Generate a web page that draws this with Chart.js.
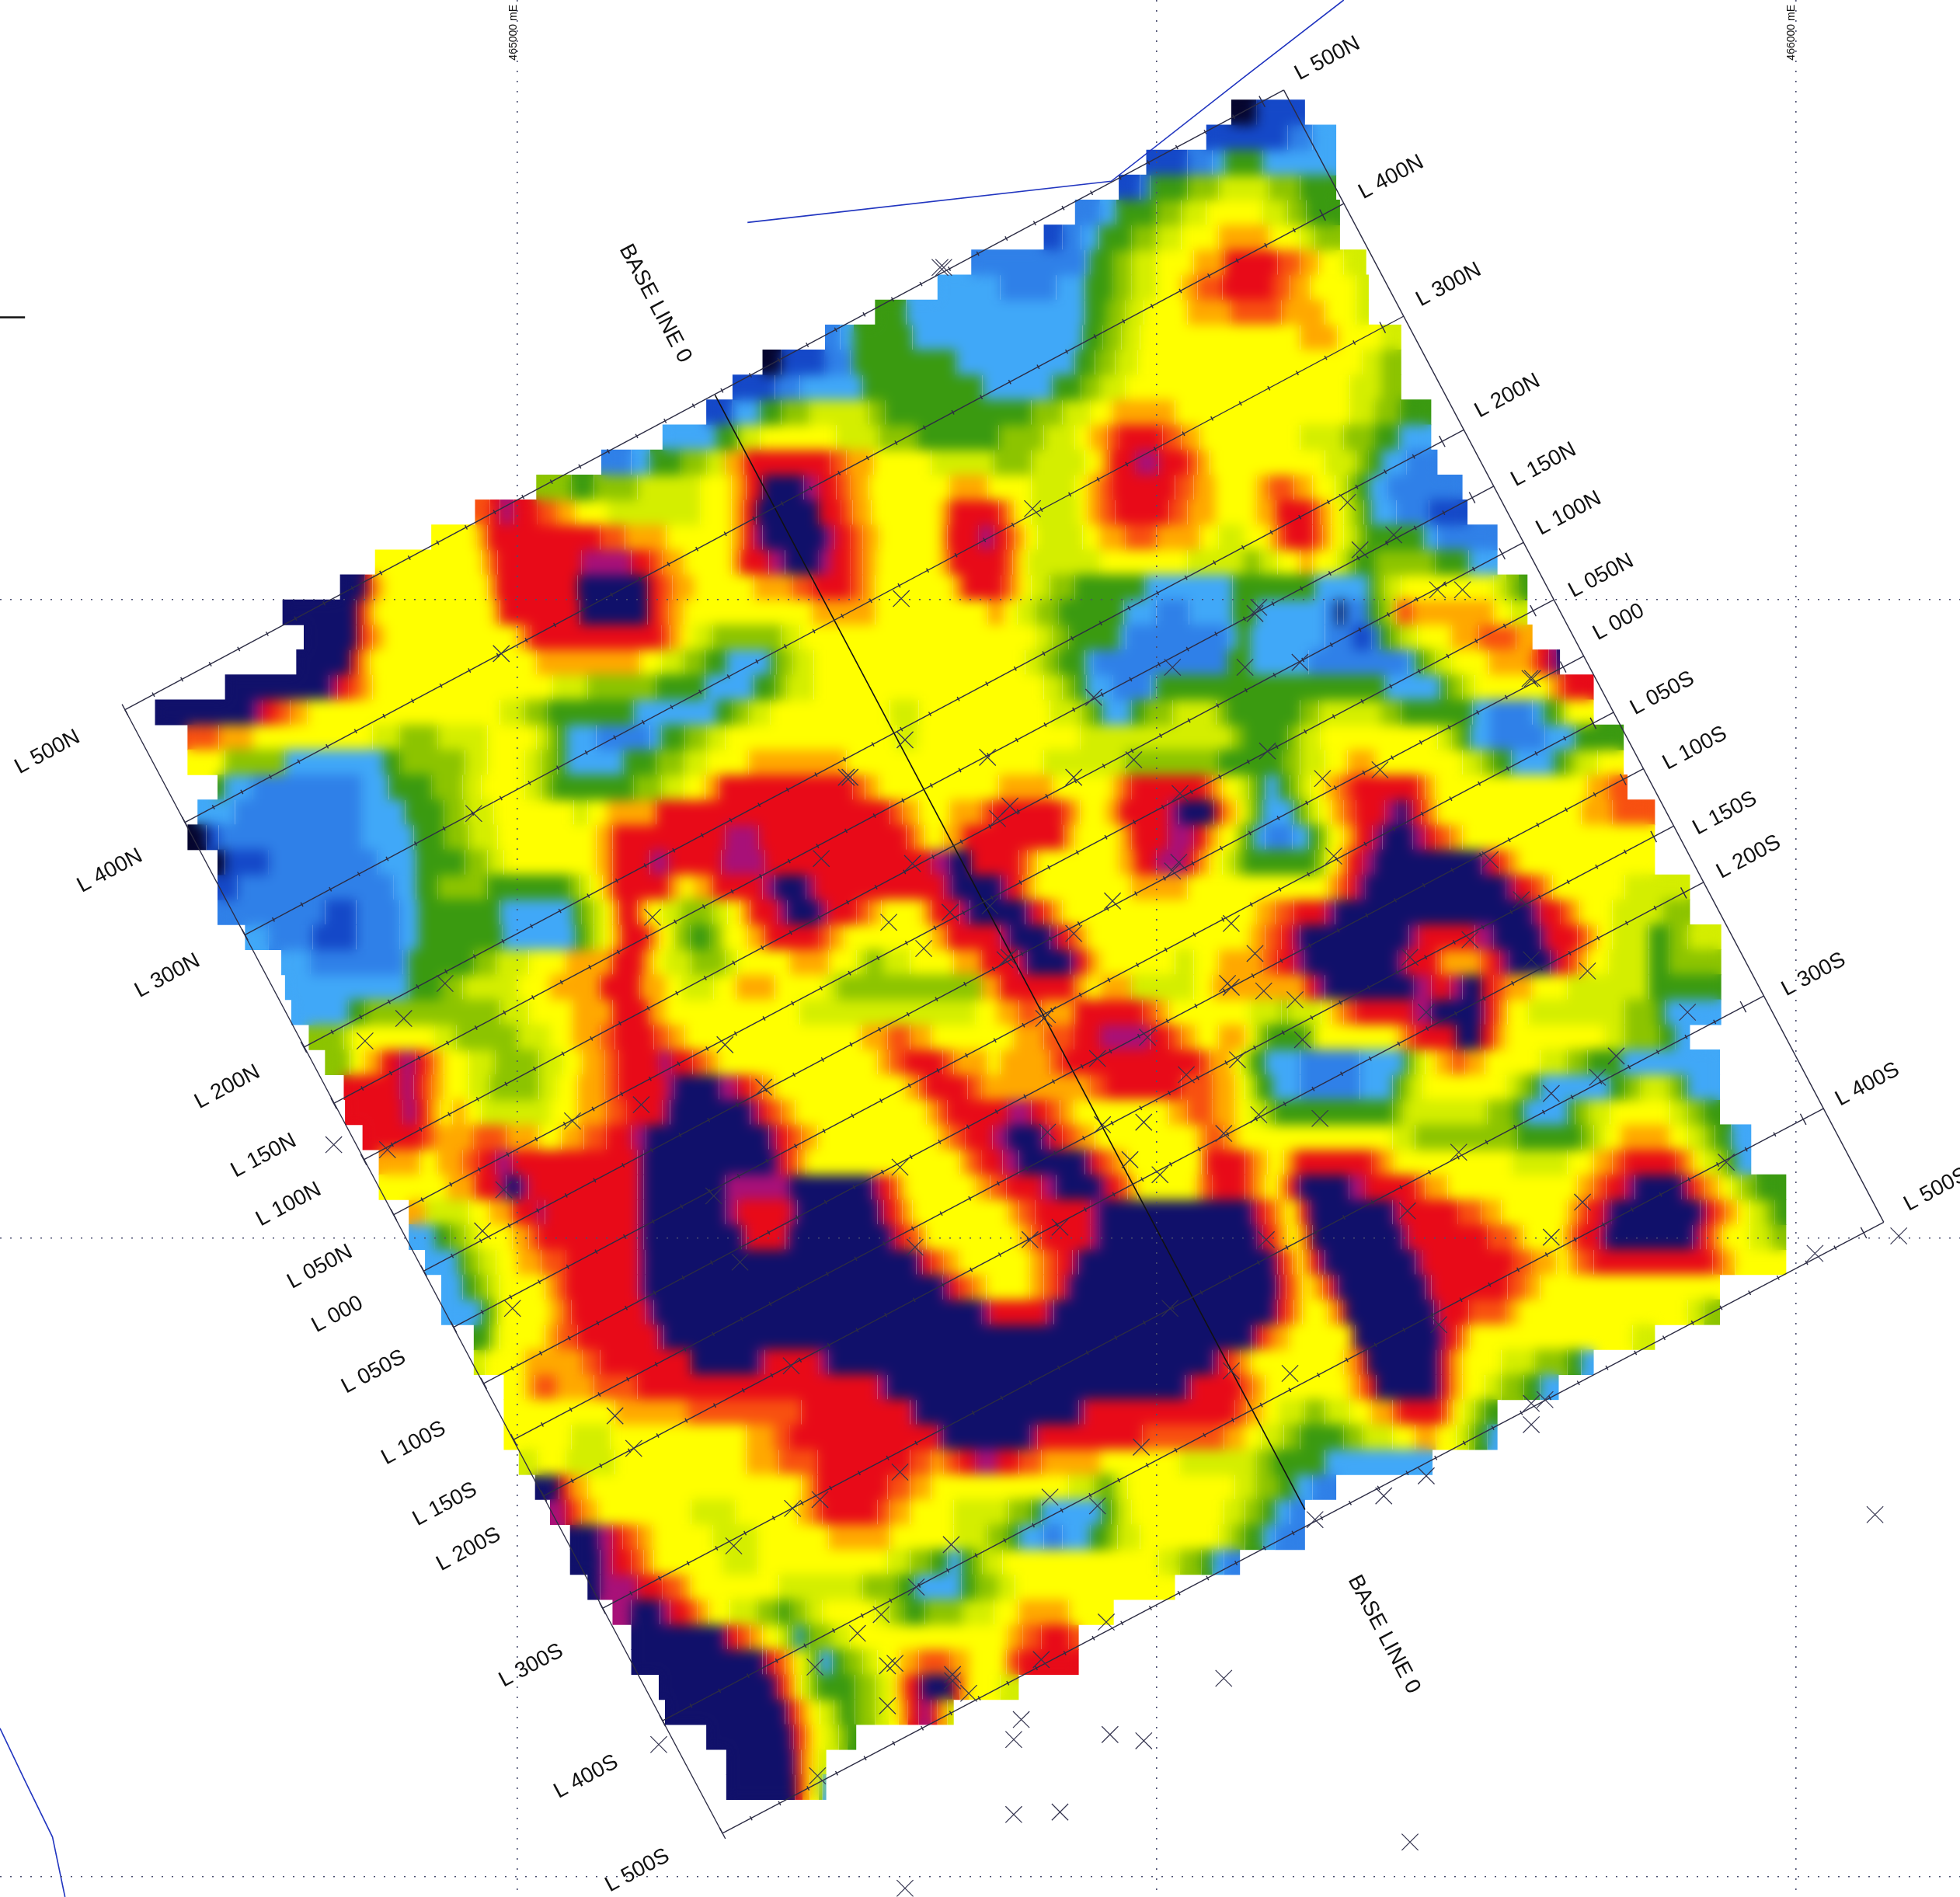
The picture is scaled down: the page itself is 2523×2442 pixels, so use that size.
<!DOCTYPE html>
<html><head><meta charset="utf-8">
<style>html,body{margin:0;padding:0;background:#fff}canvas{display:block}</style>
<script src="https://cdn.jsdelivr.net/npm/chart.js@4"></script>
</head><body><canvas id="c" width="2523" height="2442"></canvas>
<script>
// Map units: x east, y down, full sheet = 1568 x 1518
const levelColors=['#05052e','#1448c8','#2f80e8','#40a8f8','#3a9a10','#8cc400','#d4ee00','#ffff00','#ffa800','#f85010','#e80a18','#a81078','#10106a'];
const firstRowY=90, rowStep=20;
// each row: x0,level,x1,level,...,xEnd
const heatRows=[
[985,1,1005,2,1044],
[965,2,1030,3,1050,4,1069],
[917,2,950,3,970,4,980,5,1010,4,1069],
[895,2,912,3,920,5,950,6,975,7,1015,6,1040,5,1069],
[860,3,880,4,893,5,925,6,945,7,965,8,1010,7,1030,6,1045,5,1072],
[835,2,850,3,865,4,879,5,905,6,925,7,945,8,975,9,1015,8,1040,7,1052,6,1072],
[777,3,868,4,872,5,890,6,905,7,925,8,955,9,980,11,1022,10,1040,9,1055,8,1075,7,1093],
[750,4,800,3,845,4,868,5,890,6,905,7,925,8,945,9,958,10,978,11,1018,10,1032,9,1048,8,1085,7,1095],
[700,5,725,4,868,5,885,6,900,7,915,8,950,9,985,10,1025,9,1060,8,1085,7,1095],
[660,3,672,4,683,5,730,4,866,5,882,6,897,7,912,8,1040,9,1070,8,1105,7,1121],
[610,1,625,2,660,3,680,4,683,5,765,4,860,5,876,6,892,7,910,8,1090,7,1105,6,1121],
[586,2,620,3,640,4,690,5,786,4,842,5,865,6,880,7,900,8,1080,7,1105,6,1121],
[565,2,586,4,608,5,625,6,647,7,695,6,708,5,825,6,850,7,872,8,890,9,940,8,1080,7,1100,6,1120,5,1145],
[530,4,573,5,590,7,608,8,669,7,703,6,734,5,799,6,835,7,860,8,872,9,886,10,895,11,930,10,945,9,960,8,1040,7,1075,6,1100,5,1119,4,1145],
[481,3,505,4,520,5,545,6,565,7,580,9,595,11,664,10,677,9,699,8,745,7,795,6,825,7,868,8,880,9,888,11,908,12,927,11,950,10,958,9,968,8,1060,7,1085,6,1095,5,1105,4,1125,3,1150],
[429,6,457,5,475,6,510,7,560,8,585,9,597,11,610,13,643,12,655,11,669,10,680,9,695,8,760,9,790,8,825,7,860,8,870,9,880,10,890,11,940,10,955,9,972,8,1005,9,1015,10,1035,9,1050,8,1068,7,1078,6,1085,5,1095,4,1110,3,1170],
[380,10,392,11,400,12,411,11,430,10,445,9,460,8,486,7,560,8,585,9,595,11,605,13,655,11,673,10,682,9,697,8,752,9,760,11,799,10,806,9,812,8,825,7,862,8,870,9,880,10,892,11,935,10,950,9,972,8,1005,9,1021,11,1050,10,1056,9,1065,8,1075,7,1082,6,1091,5,1097,4,1117,3,1143,2,1174],
[345,8,381,9,390,11,480,10,500,9,533,8,585,9,595,11,603,12,610,13,660,12,668,11,680,10,690,9,703,8,752,9,758,11,783,12,795,11,805,10,812,9,820,8,830,7,866,8,880,9,900,10,925,9,960,8,975,7,995,8,1015,9,1022,10,1028,11,1050,10,1058,9,1065,8,1075,7,1085,6,1093,5,1139,4,1150,3,1198],
[300,8,385,9,392,10,398,11,465,12,505,11,520,10,530,9,547,8,585,9,592,11,615,12,628,13,655,12,665,11,680,10,690,9,701,8,752,9,760,11,803,10,810,9,816,8,823,7,880,8,950,7,995,6,1008,7,1022,8,1040,9,1050,8,1069,7,1077,6,1084,5,1100,6,1148,5,1175,4,1198],
[272,13,292,11,298,9,307,8,390,9,397,11,462,13,518,11,527,10,538,9,555,8,603,9,634,10,650,11,680,10,690,9,700,8,762,9,770,11,801,10,809,9,816,8,825,7,840,6,860,5,916,4,986,5,1052,4,1095,5,1100,6,1108,7,1121,8,1195,7,1205,6,1215,5,1222],
[226,13,285,11,292,9,300,8,394,9,400,11,464,13,518,11,527,10,535,9,547,8,650,9,700,8,790,9,803,8,814,7,829,6,847,5,899,4,925,3,951,4,986,5,1005,4,1060,3,1070,1,1075,3,1095,5,1103,6,1113,8,1117,10,1130,9,1195,8,1209,7,1222],
[243,13,285,11,290,10,298,9,307,8,413,9,420,10,425,11,529,10,536,9,545,8,555,7,570,6,625,7,640,8,829,7,842,6,855,5,895,4,901,3,982,4,990,5,1000,4,1060,3,1082,2,1097,3,1104,5,1112,6,1121,7,1134,8,1161,9,1183,10,1213,9,1226],
[237,13,280,11,287,9,296,8,429,9,512,8,529,7,547,6,564,5,581,4,616,5,621,6,634,7,651,8,820,7,834,6,847,5,868,4,875,3,982,5,1000,4,1047,3,1126,4,1132,5,1139,6,1148,7,1161,8,1191,9,1225,10,1230,11,1239,12,1245,13,1248],
[180,13,263,12,270,11,279,10,289,9,298,8,442,7,470,6,525,5,564,4,603,5,620,6,629,7,651,8,835,7,850,6,860,5,869,4,890,3,920,4,925,5,1108,4,1152,5,1158,6,1170,7,1180,8,1239,9,1246,10,1252,11,1275],
[124,13,202,12,210,11,220,10,232,9,246,8,400,7,420,6,438,5,507,4,573,5,586,6,599,7,616,8,712,7,735,8,840,7,865,6,875,5,882,4,905,5,916,6,938,7,973,6,982,5,1040,6,1055,7,1105,6,1121,5,1178,4,1192,3,1226,4,1235,5,1245,6,1252,8,1275],
[150,10,175,9,202,8,298,7,320,6,350,7,390,8,429,7,438,6,446,5,453,4,477,3,520,4,529,5,548,6,565,7,580,8,717,7,734,8,864,7,985,6,995,5,1030,6,1040,7,1056,8,1150,7,1161,6,1169,5,1176,4,1192,3,1236,4,1260,5,1299],
[150,8,180,6,228,4,307,5,320,6,372,7,390,8,420,7,433,6,446,5,453,4,499,5,525,6,547,7,565,8,599,9,677,8,835,7,900,6,975,5,1026,6,1040,7,1060,8,1078,9,1100,8,1170,7,1185,6,1195,5,1209,4,1243,5,1252,6,1261,7,1278,8,1299],
[174,5,180,4,202,3,289,4,311,5,345,6,370,7,385,8,420,7,433,6,442,5,507,6,529,7,547,8,564,9,575,11,682,10,692,9,703,8,799,9,842,8,890,9,898,10,905,11,964,10,970,9,978,8,990,7,999,6,1005,5,1012,4,1023,5,1032,6,1039,7,1048,8,1060,9,1072,10,1082,11,1134,10,1140,9,1148,8,1270,9,1287,10,1302],
[158,4,188,3,289,4,324,5,355,6,372,7,395,8,459,7,470,8,486,9,525,11,712,10,722,9,735,8,760,9,785,10,794,11,849,10,857,9,864,8,885,9,895,11,934,12,943,13,971,11,978,9,989,8,995,7,1000,6,1005,5,1010,4,1035,5,1040,6,1047,7,1055,8,1065,9,1075,10,1085,11,1108,12,1118,13,1125,12,1130,11,1137,10,1143,9,1150,8,1265,9,1290,10,1324],
[150,1,165,2,175,3,289,4,331,5,355,6,375,7,398,8,477,9,490,11,580,12,607,11,725,10,732,9,740,8,755,9,770,11,851,9,860,8,895,9,905,11,934,12,955,11,965,9,975,8,990,6,997,5,1003,4,1012,3,1034,4,1047,5,1055,6,1062,8,1075,9,1085,11,1098,12,1106,13,1130,12,1140,11,1148,10,1160,9,1170,8,1324],
[174,1,180,2,215,3,302,4,333,5,372,6,390,7,403,8,477,9,490,11,520,12,535,11,577,12,612,11,745,12,760,13,777,11,815,10,822,9,830,8,895,9,908,11,925,12,949,11,955,10,960,9,968,8,978,7,988,6,995,5,1052,6,1060,8,1070,9,1078,11,1090,12,1100,13,1185,12,1192,11,1200,10,1207,9,1215,8,1324],
[174,2,190,3,315,4,333,5,350,6,390,5,455,6,464,7,472,8,482,9,490,11,535,9,545,8,555,9,570,11,610,12,620,13,645,12,652,11,755,12,762,13,800,12,806,11,818,9,828,8,905,9,950,8,1062,9,1070,10,1078,11,1085,12,1092,13,1205,12,1212,11,1225,10,1235,9,1242,8,1300,7,1352],
[174,3,260,2,285,3,320,4,335,5,400,4,458,5,465,6,475,7,483,8,490,9,495,11,510,9,518,8,530,7,545,6,570,7,582,8,592,9,600,11,622,12,630,13,655,12,662,11,685,10,695,9,705,8,737,9,745,11,768,12,776,13,820,12,826,11,835,10,842,9,850,8,1005,9,1020,10,1035,11,1060,12,1068,13,1225,12,1232,11,1248,10,1256,9,1264,8,1290,7,1330,6,1352],
[196,4,215,3,250,2,285,3,320,4,335,5,402,4,460,5,468,6,475,7,483,8,490,9,497,11,520,9,528,8,540,6,552,5,568,6,578,8,598,9,612,11,655,10,664,9,675,8,745,9,758,11,800,12,808,13,840,12,846,11,855,10,862,9,870,8,1000,9,1012,10,1025,11,1034,12,1040,13,1127,12,1135,11,1180,12,1195,13,1232,12,1238,11,1262,10,1270,9,1278,8,1290,7,1319,5,1335,6,1350,7,1377],
[225,4,248,3,322,4,327,5,379,6,397,7,423,8,453,9,490,11,514,9,523,8,532,7,553,6,580,7,590,8,632,9,663,8,685,7,693,6,706,7,728,8,763,9,785,11,815,12,822,13,856,12,862,11,870,9,880,8,940,7,955,8,975,9,1010,10,1022,11,1035,12,1044,13,1118,12,1125,11,1149,10,1153,9,1184,10,1192,11,1200,12,1207,13,1240,12,1246,11,1255,10,1262,9,1270,8,1287,7,1319,5,1335,6,1377],
[228,4,327,5,353,6,370,7,414,8,440,9,480,11,512,9,532,8,545,7,571,8,589,9,620,8,660,7,670,6,785,9,800,11,859,9,870,8,880,9,905,7,955,8,970,9,1044,11,1052,12,1060,13,1131,12,1145,11,1160,12,1170,13,1185,11,1195,10,1205,9,1225,8,1254,7,1319,5,1377],
[233,4,279,5,292,6,400,7,423,8,458,9,490,11,519,9,532,8,640,7,780,8,798,9,815,10,833,9,860,11,914,10,925,9,935,8,1000,7,1025,6,1030,7,1057,8,1065,9,1075,10,1085,11,1130,12,1145,13,1184,12,1188,11,1195,10,1200,9,1206,8,1223,7,1300,6,1325,5,1332,4,1377],
[247,6,275,7,282,8,348,7,365,6,414,7,440,8,458,9,480,10,492,11,523,10,535,9,548,8,689,9,710,10,728,9,745,8,811,9,835,10,859,11,880,12,920,11,935,10,945,9,957,8,975,9,996,8,1005,6,1014,5,1044,6,1052,8,1118,9,1125,10,1132,11,1165,13,1184,11,1195,9,1205,8,1284,7,1300,6,1328,5,1340,4,1352],
[260,6,280,8,292,9,305,11,320,12,332,11,340,10,347,9,355,8,375,7,396,6,431,7,450,8,466,9,484,10,495,11,527,12,537,11,554,10,565,9,575,8,702,9,712,10,724,11,754,10,763,9,790,8,800,9,840,10,850,11,960,10,968,9,985,8,992,7,1000,5,1012,4,1040,3,1088,4,1123,5,1127,6,1132,7,1140,8,1149,9,1162,10,1172,9,1188,8,1232,7,1254,6,1270,5,1297,4,1376],
[275,11,320,12,331,11,338,10,345,9,355,8,375,7,392,6,431,7,445,8,462,9,484,10,495,11,532,12,540,13,575,12,590,11,600,10,610,9,620,8,724,9,735,10,741,11,774,10,785,9,872,10,885,11,945,10,970,9,988,8,996,7,1005,5,1018,4,1040,3,1088,4,1114,5,1120,6,1128,7,1138,8,1205,7,1215,6,1225,5,1232,4,1288,5,1300,6,1312,7,1335,6,1345,5,1350,4,1376],
[276,11,322,12,333,11,342,9,352,8,362,9,372,8,385,7,440,8,462,9,485,10,501,11,530,12,536,13,600,12,607,11,614,10,625,9,636,8,741,9,750,10,758,11,806,12,825,11,837,10,848,9,859,8,935,9,950,10,970,9,988,8,1000,7,1012,6,1020,5,1114,6,1123,7,1190,6,1210,5,1219,4,1254,5,1260,6,1271,7,1288,8,1336,7,1350,6,1363,5,1376],
[290,11,338,10,348,9,379,10,405,9,431,8,449,9,467,10,485,11,505,12,517,13,615,12,621,11,630,10,641,9,654,8,750,9,760,10,772,11,794,12,806,13,833,12,840,11,850,10,862,9,876,8,957,9,965,10,979,9,990,8,1114,7,1132,6,1214,5,1265,6,1275,7,1284,8,1297,9,1335,8,1350,7,1363,6,1372,5,1385,4,1401],
[303,9,336,8,350,9,370,10,383,11,396,12,410,11,510,12,515,13,619,12,624,11,630,10,638,9,645,8,768,9,775,10,785,11,802,12,815,13,868,12,873,11,880,10,890,9,902,8,961,10,966,11,996,10,1003,9,1014,8,1027,9,1036,11,1097,10,1105,9,1115,8,1210,7,1254,8,1275,9,1290,10,1300,11,1340,10,1348,9,1355,8,1363,7,1376,6,1382,5,1389,4,1401],
[303,8,358,9,380,11,399,12,405,13,416,12,423,11,510,12,515,13,580,12,632,13,697,12,703,11,712,10,718,9,724,8,780,9,792,10,805,11,833,12,845,13,880,12,885,11,895,10,902,9,910,8,957,9,962,10,970,11,996,10,1003,9,1012,8,1022,9,1030,11,1036,12,1040,13,1079,12,1092,11,1132,10,1140,9,1158,8,1262,9,1275,10,1285,11,1300,12,1308,13,1345,12,1350,11,1356,10,1364,9,1375,8,1385,7,1393,6,1405,5,1429],
[327,9,340,7,375,8,392,9,410,11,430,12,436,11,510,12,515,13,580,12,590,11,632,12,638,13,702,12,707,11,716,10,722,9,730,8,806,9,815,10,828,11,872,12,880,13,1000,12,1005,11,1012,10,1020,9,1028,8,1036,9,1040,11,1046,12,1049,13,1114,12,1120,11,1166,10,1185,9,1201,8,1254,9,1262,10,1270,11,1283,12,1289,13,1360,12,1365,11,1372,10,1380,9,1390,8,1400,7,1412,6,1420,5,1429],
[327,4,348,5,360,6,372,7,383,8,410,9,423,10,431,11,510,12,515,13,593,12,597,11,628,12,632,13,711,12,716,11,724,10,735,9,741,8,815,9,825,10,833,11,872,12,880,13,1005,12,1010,11,1018,10,1023,9,1030,8,1038,9,1045,11,1050,13,1121,12,1127,11,1190,10,1210,9,1219,8,1250,9,1257,10,1262,11,1280,12,1285,13,1354,12,1360,11,1365,10,1372,9,1378,8,1400,7,1417,6,1429],
[340,4,366,5,372,6,383,7,397,8,414,9,433,10,453,11,510,12,516,13,733,12,738,11,745,10,755,9,767,8,824,9,835,10,846,11,858,12,863,13,1018,12,1022,11,1027,10,1034,9,1038,8,1042,9,1048,11,1055,12,1060,13,1132,12,1138,11,1210,10,1225,9,1245,8,1254,9,1262,10,1275,11,1370,10,1378,9,1388,8,1429],
[353,4,370,5,380,6,390,7,400,8,436,9,445,10,453,11,510,12,516,13,754,12,760,11,767,10,778,9,789,8,824,9,835,10,846,11,852,12,857,13,1020,12,1024,11,1029,10,1036,9,1042,8,1049,9,1058,10,1063,11,1067,12,1071,13,1140,12,1145,11,1206,10,1220,9,1232,8,1376],
[353,4,385,5,392,6,398,8,440,9,450,10,457,11,516,12,523,13,785,12,792,11,837,12,843,13,1018,12,1022,11,1028,10,1035,9,1042,8,1062,9,1070,10,1074,11,1077,13,1147,12,1152,11,1175,10,1205,9,1215,8,1350,7,1363,6,1376],
[379,5,392,7,400,8,436,9,446,10,462,11,526,12,531,13,1001,12,1005,11,1010,10,1018,9,1031,8,1079,9,1082,11,1084,13,1151,12,1156,11,1165,10,1170,9,1176,8,1306,7,1324],
[379,7,388,8,420,9,466,10,480,11,553,13,606,12,612,11,655,12,663,13,970,12,975,11,983,10,992,9,1001,8,1075,9,1085,10,1090,11,1094,13,1149,12,1153,11,1160,9,1170,8,1201,7,1228,6,1254,5,1265,4,1275],
[403,8,420,9,428,10,445,9,475,10,510,11,702,12,710,13,948,12,953,11,992,10,1002,9,1012,8,1079,9,1088,10,1095,11,1101,13,1149,12,1153,11,1160,9,1170,8,1188,7,1201,6,1219,5,1232,4,1247],
[403,8,492,9,550,10,641,11,728,12,733,13,863,12,868,11,988,10,997,9,1010,8,1023,7,1044,6,1060,7,1080,8,1097,9,1114,10,1120,11,1153,10,1158,9,1163,8,1171,7,1180,6,1188,5,1198],
[403,8,457,7,488,8,597,9,619,10,632,11,750,12,755,13,824,12,830,11,914,10,979,9,995,8,1009,7,1027,6,1040,5,1075,6,1090,7,1114,8,1132,9,1149,8,1165,7,1175,6,1180,5,1190,4,1198],
[415,7,430,8,453,7,492,8,597,9,623,10,654,11,728,10,745,9,755,10,767,11,780,12,798,11,815,10,833,9,880,8,944,7,1005,6,1018,5,1060,4,1146],
[428,13,447,11,455,9,470,8,641,9,650,10,654,11,710,10,728,9,745,8,855,7,875,6,885,5,890,7,902,8,988,7,1005,6,1023,5,1036,4,1050,3,1069],
[440,12,452,11,458,10,465,9,478,8,553,7,588,8,638,9,650,10,658,11,702,10,712,9,728,8,763,7,807,6,825,5,833,4,881,5,889,6,895,7,905,8,979,7,996,6,1010,5,1020,4,1032,3,1044],
[456,13,478,12,490,11,498,10,510,9,522,8,570,7,606,8,663,9,712,8,763,7,790,6,806,5,815,4,835,3,850,4,872,5,885,6,894,7,912,8,975,7,985,6,996,5,1010,4,1020,3,1044],
[456,13,480,12,490,11,505,10,515,9,523,8,578,7,606,8,710,7,728,6,745,5,758,4,769,5,778,6,786,7,802,8,927,7,944,6,961,5,970,4,979,3,992],
[470,13,480,12,510,11,530,10,545,9,553,8,623,7,690,6,719,5,732,4,769,5,780,6,798,7,812,8,940],
[490,12,505,13,528,12,536,11,550,10,558,9,567,8,584,7,606,6,623,5,632,6,645,7,658,8,700,7,712,6,724,5,740,6,770,7,795,8,815,9,855,8,891],
[505,13,578,12,582,11,590,10,600,9,610,8,622,7,630,6,634,5,637,4,642,5,648,6,665,7,680,8,806,9,818,10,833,11,855,10,863],
[505,13,610,12,613,11,620,10,628,9,635,8,642,7,648,6,652,5,656,4,666,5,675,6,690,7,702,8,720,9,735,10,760,9,775,8,805,10,815,11,863],
[527,13,619,12,622,11,627,10,632,9,636,8,641,7,648,6,654,5,684,6,700,7,711,8,717,9,724,11,735,12,738,13,762,11,768,9,775,8,800,7,815],
[532,13,628,12,631,11,636,10,640,9,647,8,656,7,667,6,673,5,684,6,700,7,711,8,719,9,726,11,735,12,745,11,750,9,758,7,763],
[565,13,632,12,635,11,640,10,644,9,650,8,660,7,671,6,678,5,685],
[581,13,634,12,637,11,641,9,650,8,655,7,661],
[581,13,636,11,642,9,648,8,655,6,658,4,661]
];
// survey lines
const lineNames=['L 500N','L 400N','L 300N','L 200N','L 150N','L 100N','L 050N','L 000','L 050S','L 100S','L 150S','L 200S','L 300S','L 400S','L 500S'];
const lineStartX=[100,148,196,243,267,291,315,339,363,387,411,435,482,530,578];
const lineStartY=[568,658,748,838,883,928,972,1017,1062,1107,1152,1197,1287,1377,1467];
const lineEndX=[1027,1075,1123,1171,1195,1219,1243,1267,1291,1315,1339,1363,1411,1459,1507];
const lineEndY=[72,163,253,344,389,434,480,525,570,615,661,706,797,887,978];
const leftLabelX=[38,88,134,182,211,231,256,270,299,331,356,375,425,469,510];
const leftLabelY=[602,697,781,870,925,964,1014,1052,1098,1155,1204,1240,1333,1422,1497];
const rightLabelX=[1062,1113,1159,1206,1235,1255,1281,1295,1330,1356,1380,1399,1451,1494,1549];
const rightLabelY=[47,142,228,317,372,411,461,498,555,599,651,686,780,868,952];
const baseLineX=[572,1044], baseLineY=[316,1208];
const frameLeftX=[100,578], frameLeftY=[568,1467];
const frameRightX=[1027,1507], frameRightY=[72,978];
const baseLabels=[['BASE LINE 0',524,243],['BASE LINE 0',1107,1308]];
const eastTicks=[414,925,1437], northTicks=[480,991,1502];
const eastLabels=[['465000 mE',411,26],['466000 mE',1433,26]];
const roadAX=[598,889,995,1075], roadAY=[178,145,62,0];
const roadBX=[0,20,42,52], roadBY=[1383,1425,1470,1518];
const dashX=[0,20], dashY=[254,254];
const crossX=[752,755,826,721,401,379,1078,1007,1004,1088,1115,1150,1170,1226,1224,938,996,1040,875,724,790,907,859,1014,1058,1104,680,677,808,798,944,943,938,1067,1192,657,730,522,711,739,760,792,859,890,985,1004,1217,1176,1128,1225,1270,804,807,985,1011,1036,982,1141,1350,292,323,356,580,838,835,611,878,918,990,949,1042,1278,1293,1241,267,310,458,513,403,386,410,571,720,838,882,915,1056,1007,979,1167,1381,1126,928,904,1266,1241,1013,824,848,732,592,633,492,507,985,1032,936,913,1151,1225,1236,1225,1141,1107,1052,656,634,720,840,761,878,587,705,686,733,652,710,716,710,762,762,775,833,885,979,817,811,888,915,811,848,1128,724,1500,1452,1519,527,654];
const crossY=[214,214,407,479,523,651,402,486,491,440,428,472,472,543,543,534,534,530,558,592,606,608,622,601,623,616,622,622,645,655,635,690,697,685,688,687,691,734,738,759,730,725,747,721,739,763,720,752,766,768,777,768,766,790,793,800,787,810,810,833,815,787,836,812,815,870,847,830,848,860,832,862,845,875,916,920,897,884,952,985,1047,957,934,906,900,898,895,892,907,922,930,969,940,928,962,990,992,992,982,998,1010,1093,1133,1159,1097,1099,1047,1158,1060,1123,1120,1140,1181,1197,1216,1200,1207,1178,1198,1236,1205,1237,1292,1307,1270,1334,1333,1331,1365,1340,1345,1355,1328,1298,1343,1376,1392,1388,1393,1452,1450,1474,1511,1212,1003,989,1396,1421];

const levelData=levelColors.map(()=>[]);
heatRows.forEach((row,r)=>{
  const y=firstRowY+r*rowStep;
  for(let i=0;i+2<row.length;i+=2){ levelData[row[i+1]-1].push({y:y,x:[row[i],row[i+2]]}); }
});
const pairs=(xs,ys)=>xs.map((x,i)=>({x:x,y:ys[i]}));
const datasets=[];
levelColors.forEach((col,i)=>datasets.push({type:'bar',indexAxis:'y',data:levelData[i],backgroundColor:col,borderWidth:0,barThickness:33,grouped:false,order:20,inflateAmount:0}));
const ink='#2c2c44';
const mkLine=(xs,ys,color,w,order)=>({type:'line',data:pairs(xs,ys),borderColor:color,borderWidth:w,pointRadius:0,fill:false,tension:0,order:order});
lineNames.forEach((n,i)=>datasets.push(mkLine([lineStartX[i],lineEndX[i]],[lineStartY[i],lineEndY[i]],ink,1.4,5)));
datasets.push(mkLine(frameLeftX,frameLeftY,ink,1.4,5));
datasets.push(mkLine(frameRightX,frameRightY,ink,1.4,5));
datasets.push(mkLine(baseLineX,baseLineY,'#111',1.6,5));
datasets.push(mkLine(roadAX,roadAY,'#2236c0',1.6,5));
datasets.push(mkLine(roadBX,roadBY,'#2236c0',1.6,5));
datasets.push(mkLine(dashX,dashY,'#111',2.5,5));
datasets.push({type:'scatter',data:pairs(crossX,crossY),pointStyle:'crossRot',pointRadius:15,pointBorderColor:'#33334e',pointBorderWidth:1.2,pointBackgroundColor:'transparent',showLine:false,order:1});

const sheetPlugin={id:'sheet',
 afterDatasetDraw(chart,args){
  // once the last heat bar is painted, soften the colour steps inside the painted area
  if(args.index!==0) return;
  const cv=chart.canvas,off=document.createElement('canvas');
  off.width=cv.width;off.height=cv.height;off.getContext('2d').drawImage(cv,0,0);
  const c=chart.ctx;c.save();c.setTransform(1,0,0,1,0,0);
  c.globalCompositeOperation='source-atop';c.filter='blur(8px)';c.drawImage(off,0,0);c.restore();
 },
 afterDatasetsDraw(chart){
  const c=chart.ctx,sx=chart.scales.x,sy=chart.scales.y;
  const px=v=>sx.getPixelForValue(v),py=v=>sy.getPixelForValue(v);
  c.save();
  // station ticks and end caps along survey lines
  c.strokeStyle=ink;c.lineWidth=1.4;
  lineNames.forEach((n,i)=>{
    const x0=px(lineStartX[i]),y0=py(lineStartY[i]),x1=px(lineEndX[i]),y1=py(lineEndY[i]);
    const len=Math.hypot(x1-x0,y1-y0),ux=(x1-x0)/len,uy=(y1-y0)/len,nx=-uy,ny=ux;
    for(let d=0;d<=len;d+=41.5){
      const h=(d===0||d+41.5>len)?8:3;
      const x=x0+ux*d,y=y0+uy*d;
      c.beginPath();c.moveTo(x-nx*h,y-ny*h);c.lineTo(x+nx*h,y+ny*h);c.stroke();
    }
  });
  c.fillStyle='#111';c.textAlign='center';c.textBaseline='middle';
  const text=(s,x,y,a,f)=>{c.save();c.translate(px(x),py(y));c.rotate(a*Math.PI/180);c.font=f;c.fillText(s,0,0);c.restore();};
  const lf='28px "Liberation Sans"';
  lineNames.forEach((n,i)=>{
    text(n,leftLabelX[i],leftLabelY[i],-28,lf);
    text(n,rightLabelX[i],rightLabelY[i],-28,lf);
  });
  baseLabels.forEach(b=>text(b[0],b[1],b[2],62,lf));
  eastLabels.forEach(b=>text(b[0],b[1],b[2],-90,'14px "Liberation Sans"'));
  c.restore();
}};
const axis=(ticks,rev,max)=>({type:'linear',min:0,max:max,reverse:rev,offset:false,
  afterBuildTicks(s){s.ticks=ticks.map(v=>({value:v}));},
  grid:{z:1,offset:false,drawTicks:false,color:'#4a4e70',lineWidth:1.6},
  border:{display:false,dash:[2,11]},
  ticks:{display:false}});
new Chart(document.getElementById('c'),{
  type:'scatter',
  data:{datasets:datasets},
  options:{responsive:false,devicePixelRatio:1,animation:false,
    layout:{padding:0,autoPadding:false},
    plugins:{legend:{display:false},tooltip:{enabled:false},title:{display:false}},
    scales:{x:axis(eastTicks,false,1568),y:axis(northTicks,true,1518)}},
  plugins:[sheetPlugin]
});
</script></body></html>
